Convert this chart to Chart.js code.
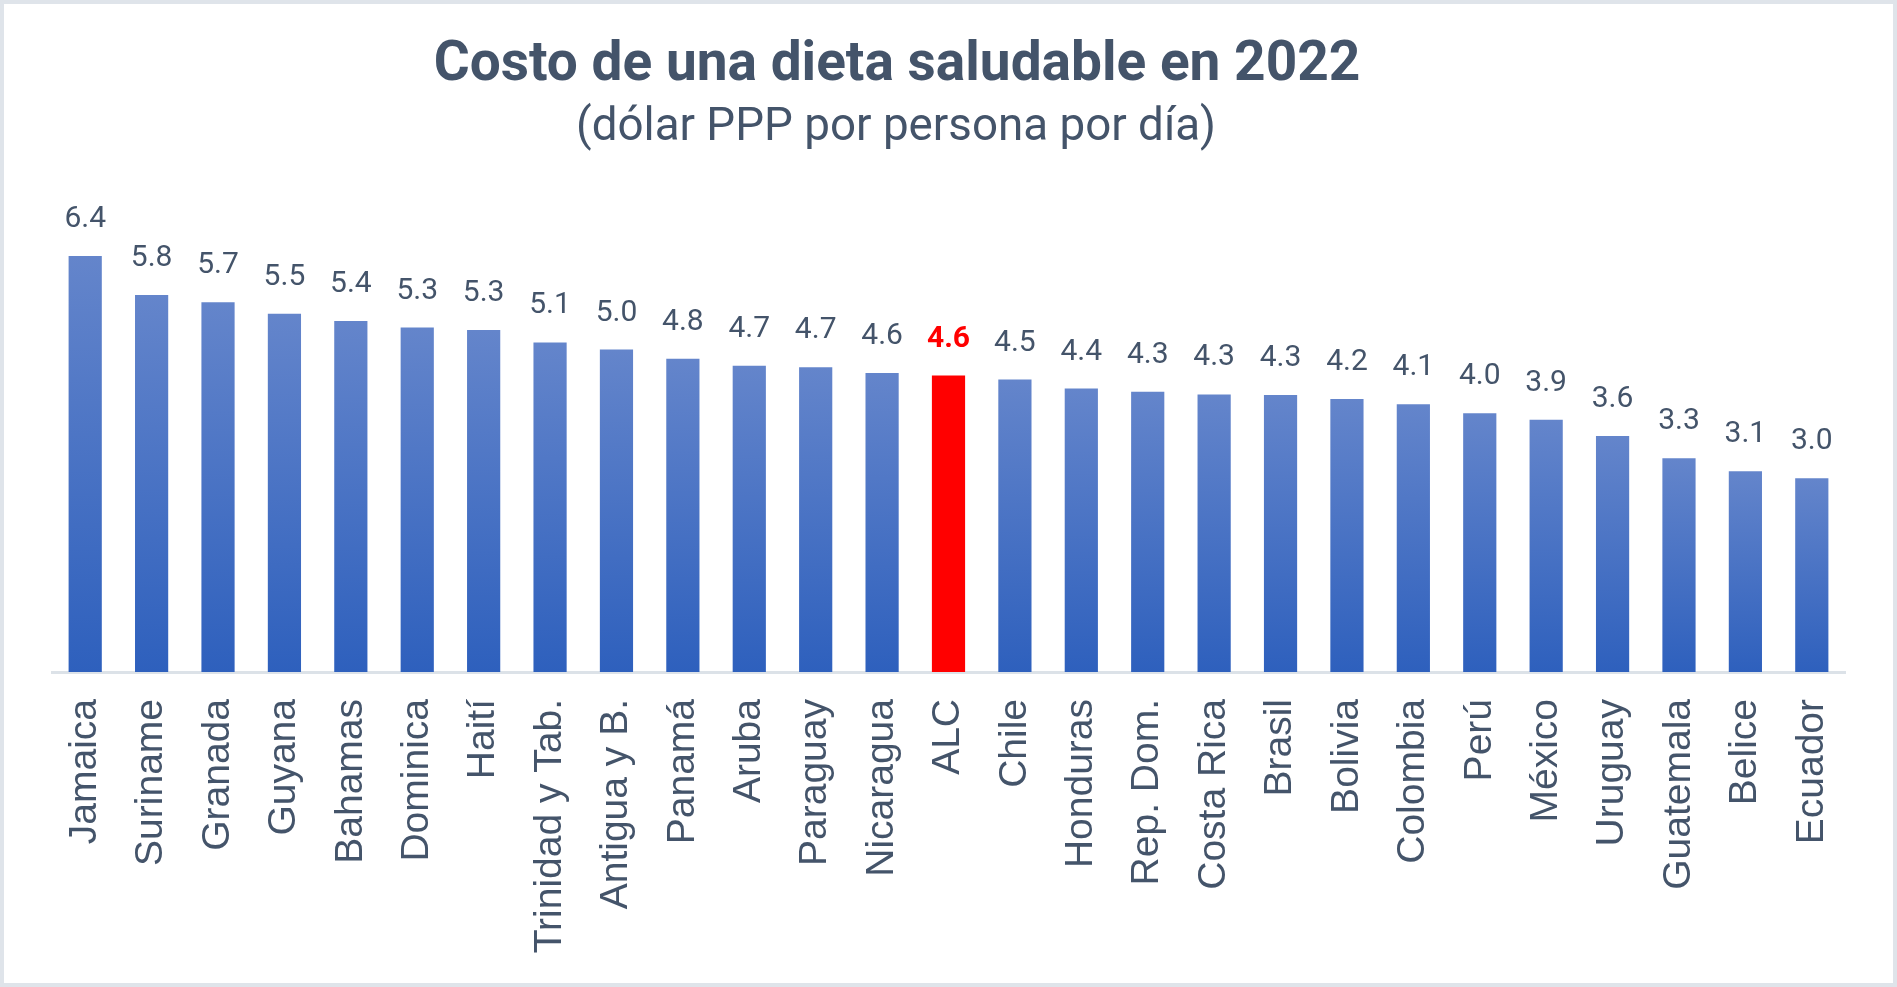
<!DOCTYPE html>
<html lang="es">
<head>
<meta charset="utf-8">
<title>Costo de una dieta saludable en 2022</title>
<script src="https://cdn.jsdelivr.net/npm/chart.js@4.4.1/dist/chart.umd.min.js"></script>
<style>
  html, body { margin: 0; padding: 0; background: #ffffff; }
  #wrap { position: relative; width: 1897px; height: 987px; }
</style>
</head>
<body>
<div id="wrap"><canvas id="dietChart"></canvas></div>
<script>
// ===== DATA =====
const countries = [
  "Jamaica", "Suriname", "Granada", "Guyana", "Bahamas", "Dominica", "Haití",
  "Trinidad y Tab.", "Antigua y B.", "Panamá", "Aruba", "Paraguay", "Nicaragua",
  "ALC", "Chile", "Honduras", "Rep. Dom.", "Costa Rica", "Brasil", "Bolivia",
  "Colombia", "Perú", "México", "Uruguay", "Guatemala", "Belice", "Ecuador"
];
const costs = [
  6.40, 5.80, 5.69, 5.51, 5.40, 5.30, 5.26,
  5.07, 4.96, 4.82, 4.71, 4.69, 4.60,
  4.56, 4.50, 4.36, 4.31, 4.27, 4.26, 4.20,
  4.12, 3.98, 3.88, 3.63, 3.29, 3.09, 2.98
];
const highlight = "ALC";
const titleText = "Costo de una dieta saludable en 2022";
const subtitleText = "(dólar PPP por persona por día)";

const TEXT_COLOR = "#44546A";

// Draws text, squeezing it horizontally to a target width (reference uses a narrow face)
function fitText(ctx, text, cx, y, targetWidth) {
  const w = ctx.measureText(text).width;
  const k = Math.min(1, targetWidth / w);
  ctx.save();
  ctx.translate(cx, y);
  ctx.scale(k, 1);
  ctx.fillText(text, 0, 0);
  ctx.restore();
}

// Frame + titles
const decorPlugin = {
  id: "decor",
  beforeDraw(chart) {
    const { ctx, width, height } = chart;
    ctx.save();
    ctx.fillStyle = "#ffffff";
    ctx.fillRect(0, 0, width, height);
    ctx.strokeStyle = "#DFE4EA";
    ctx.lineWidth = 4;
    ctx.strokeRect(2, 2, width - 4, height - 4);
    ctx.restore();
  },
  afterDraw(chart) {
    const { ctx } = chart;
    ctx.save();
    ctx.fillStyle = TEXT_COLOR;
    ctx.textAlign = "center";
    ctx.textBaseline = "alphabetic";
    ctx.font = "bold 55px Roboto, 'Open Sans', sans-serif";
    fitText(ctx, titleText, 897, 80, 928);
    ctx.font = "46px Roboto, 'Open Sans', sans-serif";
    fitText(ctx, subtitleText, 896, 140, 640);
    ctx.restore();
  }
};

// Value labels above bars
const valueLabels = {
  id: "valueLabels",
  afterDatasetsDraw(chart) {
    const { ctx } = chart;
    const meta = chart.getDatasetMeta(0);
    ctx.save();
    ctx.textAlign = "center";
    ctx.textBaseline = "alphabetic";
    meta.data.forEach((bar, i) => {
      const isHl = countries[i] === highlight;
      ctx.fillStyle = isHl ? "#FF0000" : TEXT_COLOR;
      ctx.font = (isHl ? "bold " : "") + "30px Roboto, sans-serif";
      ctx.fillText(costs[i].toFixed(1), bar.x, bar.y - 29);
    });
    ctx.restore();
  }
};

function barColor(context) {
  if (countries[context.dataIndex] === highlight) return "#FF0000";
  const chart = context.chart;
  const area = chart.chartArea;
  if (!area) return "#4A73C4";
  const yScale = chart.scales.y;
  const top = yScale.getPixelForValue(costs[context.dataIndex]);
  const g = chart.ctx.createLinearGradient(0, top, 0, area.bottom);
  g.addColorStop(0, "#6485CB");
  g.addColorStop(1, "#2E60BD");
  return g;
}

const ctx = document.getElementById("dietChart");

new Chart(ctx, {
  type: "bar",
  data: {
    labels: countries,
    datasets: [{
      data: costs,
      backgroundColor: barColor,
      borderWidth: 0,
      barPercentage: 0.5,
      categoryPercentage: 1.0
    }]
  },
  options: {
    responsive: true,
    maintainAspectRatio: false,
    animation: false,
    devicePixelRatio: 1,
    layout: {
      padding: { top: 217, left: 52, right: 52, bottom: 0 }
    },
    plugins: {
      legend: { display: false },
      tooltip: { enabled: false },
      title: { display: false }
    },
    scales: {
      x: {
        grid: { display: false, drawTicks: false },
        border: { display: true, color: "#DCE2E8", width: 3 },
        ticks: {
          minRotation: 90,
          maxRotation: 90,
          autoSkip: false,
          padding: 27,
          color: TEXT_COLOR,
          font: { family: "'Liberation Sans', Arial, sans-serif", size: 39 }
        },
        afterFit(scale) {
          scale.height = 315;
        }
      },
      y: {
        display: false,
        min: 0,
        max: 7
      }
    }
  },
  plugins: [decorPlugin, valueLabels]
});
</script>
</body>
</html>
